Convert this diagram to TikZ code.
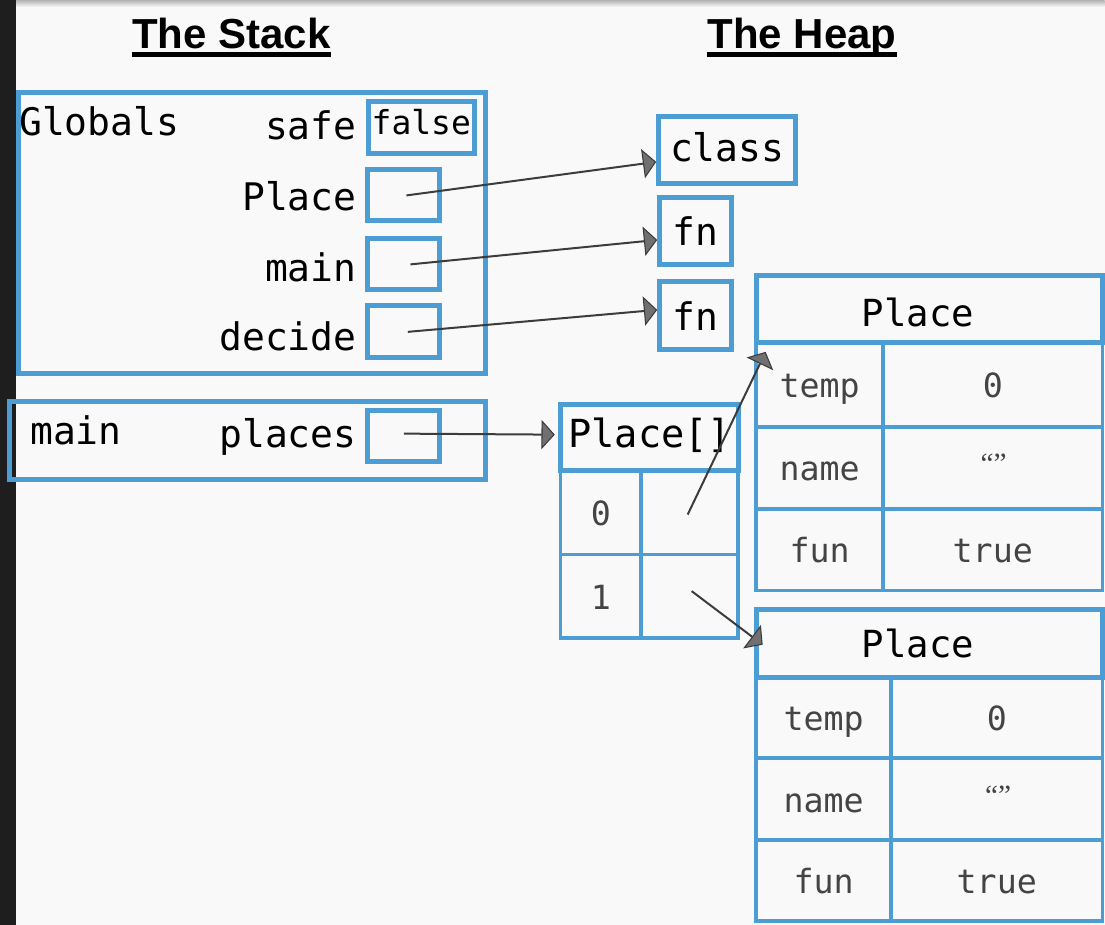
\documentclass[tikz,border=0pt]{standalone}
\usepackage{fontspec}
\setmonofont{DejaVu Sans Mono}
\newfontfamily\headfont{Liberation Sans}
\newfontfamily\quotefont{Liberation Serif}
\usetikzlibrary{arrows.meta}

\definecolor{frameblue}{RGB}{75,157,212}
\definecolor{paper}{RGB}{249,249,249}
\definecolor{sidebar}{RGB}{30,30,30}
\definecolor{wire}{RGB}{60,60,60}
\definecolor{tipfill}{RGB}{112,112,112}
\definecolor{celltext}{RGB}{68,68,68}

% sizes given in screen pixels (1px = 0.75pt)
\newcommand\pxl[1]{#1*0.75pt}

\tikzset{
  box/.style={rectangle, draw=frameblue, line width=3.75pt, inner sep=0pt},
  cell/.style={rectangle, draw=frameblue, line width=2.6pt, inner sep=0pt,
    text=celltext, font=\ttfamily\fontsize{25}{25}\selectfont,
    text height=19.5pt, text depth=0pt},
  lbl/.style={inner sep=0pt, anchor=base east, font=\ttfamily\fontsize{28.5}{30}\selectfont},
  bigtext/.style={font=\ttfamily\fontsize{28.5}{30}\selectfont},
  heading/.style={inner sep=0pt, anchor=base, font=\headfont\bfseries\fontsize{31.5}{32}\selectfont},
  quotes/.style={inner sep=0pt, text=celltext, font=\quotefont\fontsize{22}{22}\selectfont},
  ptr/.style={draw=wire, line width=1.5pt,
    -{Triangle[length=10pt, width=22pt, fill=tipfill, line width=0.8pt]}}
}

\begin{document}
\begin{tikzpicture}[x=0.75pt, y=-0.75pt]
  % page
  \fill[paper] (0,0) rectangle (1105,925);
  \shade[top color=black!30, bottom color=paper] (16,0) rectangle (1105,7);
  \fill[sidebar] (0,0) rectangle (16,925);

  % headings
  \node[heading] (st) at (231.5,49) {The Stack};
  \node[heading] (ht) at (802.5,49) {The Heap};
  \draw[line width=3.75pt] ([yshift=-4.1pt]st.base west) -- ([yshift=-4.1pt]st.base east);
  \draw[line width=3.75pt] ([yshift=-4.1pt]ht.base west) -- ([yshift=-4.1pt]ht.base east);

  % ---- stack: globals frame
  \node[box, minimum width=\pxl{467.5}, minimum height=\pxl{281.5}] (glob) at (252.25,233.25) {};
  \node[inner sep=0pt, anchor=base west, font=\ttfamily\fontsize{28.5}{30}\selectfont] (globlbl) at (19,136) {Globals};

  \node[lbl] (safelbl) at (357,140) {safe};
  \node[box, minimum width=\pxl{106}, minimum height=\pxl{52}] (safebox) at (421.5,127.5) {};
  \node[inner sep=0pt, anchor=base, font=\ttfamily\fontsize{24.75}{25}\selectfont] (safeval) at (421.5,135) {false};

  \node[lbl] (placelbl) at (357,211) {Place};
  \node[box, minimum width=\pxl{72}, minimum height=\pxl{51}] (placeref) at (404,195.5) {};

  \node[lbl] (mainlbl) at (357,282) {main};
  \node[box, minimum width=\pxl{72}, minimum height=\pxl{51}] (mainref) at (404,264.5) {};

  \node[lbl] (decidelbl) at (357,351) {decide};
  \node[box, minimum width=\pxl{72}, minimum height=\pxl{52}] (decideref) at (404,332) {};

  % ---- stack: main frame
  \node[box, minimum width=\pxl{476.5}, minimum height=\pxl{78}] (mainframe) at (247.75,441) {};
  \node[inner sep=0pt, anchor=base west, font=\ttfamily\fontsize{28.5}{30}\selectfont] (mainname) at (30,445) {main};
  \node[lbl] (placeslbl) at (357,448) {places};
  \node[box, minimum width=\pxl{72}, minimum height=\pxl{51}] (placesref) at (404,436.5) {};

  % ---- heap: class and functions
  \node[box, minimum width=\pxl{137}, minimum height=\pxl{67}] (cls) at (727.5,150.5) {};
  \node[bigtext, inner sep=0pt, anchor=base] (clsname) at (727.5,162) {class};
  \node[box, bigtext, minimum width=\pxl{72}, minimum height=\pxl{67}] (fn1) at (696,231.5) {fn};
  \node[box, bigtext, minimum width=\pxl{72}, minimum height=\pxl{68}] (fn2) at (696,316) {fn};

  % ---- heap: Place[] array
  \node[cell, minimum width=\pxl{80.5}, minimum height=\pxl{84.5}] (a0k) at (601.25,512.75) {0};
  \node[cell, minimum width=\pxl{97},   minimum height=\pxl{84.5}] (a0v) at (690,512.75) {};
  \node[cell, minimum width=\pxl{80.5}, minimum height=\pxl{83.5}] (a1k) at (601.25,596.75) {1};
  \node[cell, minimum width=\pxl{97},   minimum height=\pxl{83.5}] (a1v) at (690,596.75) {};
  \node[box, minimum width=\pxl{177.5}, minimum height=\pxl{66}] (arrh) at (649.75,437.5) {};
  \node[inner sep=0pt, anchor=base, font=\ttfamily\fontsize{29}{30}\selectfont] (arrname) at (650,448) {Place[]};

  % ---- heap: first Place object
  \node[cell, minimum width=\pxl{127},   minimum height=\pxl{84.5}] (p1k1) at (820,384.75) {temp};
  \node[cell, minimum width=\pxl{219.5}, minimum height=\pxl{84.5}] (p1v1) at (993.25,384.75) {0};
  \node[cell, minimum width=\pxl{127},   minimum height=\pxl{82}]   (p1k2) at (820,468) {name};
  \node[cell, minimum width=\pxl{219.5}, minimum height=\pxl{82}]   (p1v2) at (993.25,468) {};
  \node[cell, minimum width=\pxl{127},   minimum height=\pxl{82}]   (p1k3) at (820,550) {fun};
  \node[cell, minimum width=\pxl{219.5}, minimum height=\pxl{82}]   (p1v3) at (993.25,550) {true};
  \node[quotes] (p1q) at (994,464) {“”};
  \node[box, minimum width=\pxl{346.5}, minimum height=\pxl{66.5}] (t1h) at (929.75,309.25) {};
  \node[inner sep=0pt, anchor=base, font=\ttfamily\fontsize{28}{30}\selectfont] (t1name) at (918.5,327) {Place};

  % ---- heap: second Place object
  \node[cell, minimum width=\pxl{135},   minimum height=\pxl{81}] (p2k1) at (824,718) {temp};
  \node[cell, minimum width=\pxl{211.5}, minimum height=\pxl{81}] (p2v1) at (997.25,718) {0};
  \node[cell, minimum width=\pxl{135},   minimum height=\pxl{82}] (p2k2) at (824,799.5) {name};
  \node[cell, minimum width=\pxl{211.5}, minimum height=\pxl{82}] (p2v2) at (997.25,799.5) {};
  \node[cell, minimum width=\pxl{135},   minimum height=\pxl{81}] (p2k3) at (824,881) {fun};
  \node[cell, minimum width=\pxl{211.5}, minimum height=\pxl{81}] (p2v3) at (997.25,881) {true};
  \node[quotes] (p2q) at (998.5,796) {“”};
  \node[box, minimum width=\pxl{346.5}, minimum height=\pxl{68}] (t2h) at (929.75,643.5) {};
  \node[inner sep=0pt, anchor=base, font=\ttfamily\fontsize{28}{30}\selectfont] (t2name) at (918.5,658) {Place};

  % ---- references
  \draw[ptr] ([xshift=2pt]placeref.center) -- ([yshift=-8.6pt]cls.west);
  \draw[ptr] ([xshift=5pt]mainref.center) -- ([yshift=-6.4pt]fn1.west);
  \draw[ptr] ([xshift=3pt]decideref.center) -- ([yshift=4.5pt]fn2.west);
  \draw[ptr] ([yshift=2pt]placesref.center) -- ([xshift=-2.6pt,yshift=2pt]arrh.west);
  \draw[ptr] ([xshift=-1.5pt,yshift=-1.5pt]a0v.center) -- ([xshift=9pt,yshift=-5.25pt]t1h.south west);
  \draw[ptr] ([xshift=1.5pt,yshift=4pt]a1v.center) -- ([xshift=6.75pt,yshift=-1.1pt]t2h.west);
\end{tikzpicture}
\end{document}
